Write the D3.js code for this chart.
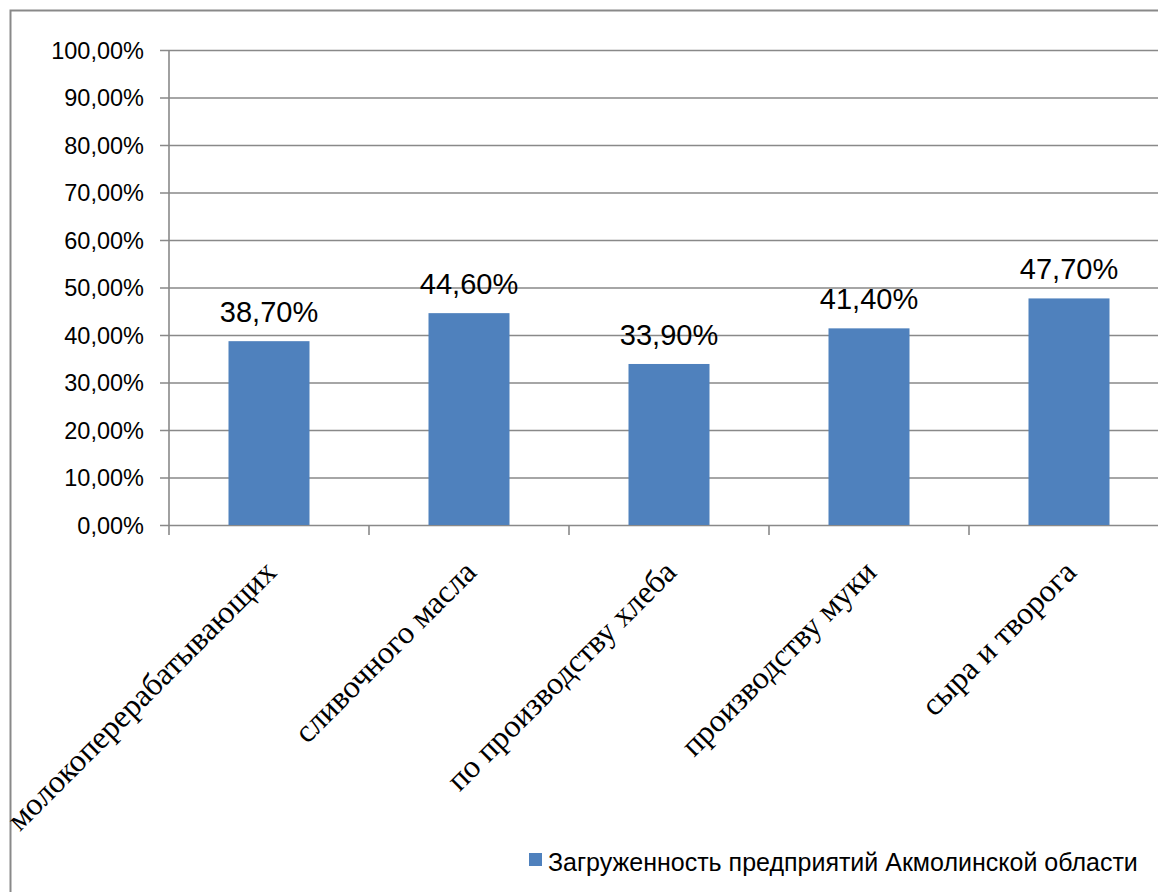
<!DOCTYPE html>
<html>
<head>
<meta charset="utf-8">
<script src="https://cdn.jsdelivr.net/npm/d3@7"></script>
<style>
  body { margin: 0; background: #fff; }
  svg { display: block; }
</style>
</head>
<body>
<div id="chart"></div>
<script>
// ===========Data
var categories = [
    "молокоперерабатывающих",
    "сливочного масла",
    "по производству хлеба",
    "производству муки",
    "сыра и творога"
];
var values = [0.387, 0.446, 0.339, 0.414, 0.477];
var valueLabels = ["38,70%", "44,60%", "33,90%", "41,40%", "47,70%"];
var yTicks = [0, 0.1, 0.2, 0.3, 0.4, 0.5, 0.6, 0.7, 0.8, 0.9, 1.0];
var seriesName = "Загруженность предприятий Акмолинской области";

// ===========Size
var svgWidth = 1158;
var svgHeight = 892;
var plot = { left: 169, right: 1169, top: 50, bottom: 525 };

var svg = d3.select("#chart").append("svg")
    .attr("width", svgWidth)
    .attr("height", svgHeight);

// outer chart border (cropped on right and bottom)
svg.append("rect")
    .attr("x", 10.5)
    .attr("y", 10.5)
    .attr("width", 1200)
    .attr("height", 1000)
    .attr("fill", "none")
    .attr("stroke", "#898989")
    .attr("stroke-width", 2);

// ==========Scales
var xScale = d3.scaleBand()
    .domain(categories)
    .range([plot.left, plot.right])
    .paddingInner(0.595)
    .paddingOuter(0.595 / 2);

var yScale = d3.scaleLinear()
    .domain([0, 1])
    .range([plot.bottom, plot.top]);

var pctFormat = function(d) {
    return d3.format(".2f")(d * 100).replace(".", ",") + "%";
};

// ==========Y axis with gridlines
var leftAxis = d3.axisLeft(yScale)
    .tickValues(yTicks)
    .tickSize(plot.right - plot.left + 9)
    .tickFormat(pctFormat);

var yAxis = svg.append("g")
    .attr("transform", `translate(${plot.right}, 0)`)
    .call(leftAxis);

yAxis.select(".domain").remove();
yAxis.selectAll("line")
    .attr("stroke", "#898989")
    .attr("stroke-width", 1.6);
yAxis.selectAll("text")
    .attr("x", -(plot.right - plot.left) - 25)
    .attr("dy", "0.35em")
    .style("font-family", "'Liberation Sans', Arial, sans-serif")
    .style("font-size", "23.5px")
    .attr("fill", "#000");

// vertical axis line
svg.append("line")
    .attr("x1", plot.left)
    .attr("x2", plot.left)
    .attr("y1", plot.top)
    .attr("y2", plot.bottom)
    .attr("stroke", "#898989")
    .attr("stroke-width", 1.6);

// ==========X axis ticks between categories
var boundaries = categories.map(function(c) { return xScale(c) - xScale.step() * xScale.paddingInner() / 2; });
svg.selectAll(".xtick")
    .data(boundaries)
    .enter()
    .append("line")
    .attr("class", "xtick")
    .attr("x1", d => d)
    .attr("x2", d => d)
    .attr("y1", plot.bottom)
    .attr("y2", plot.bottom + 10)
    .attr("stroke", "#898989")
    .attr("stroke-width", 1.6);

// ==========Bars
svg.selectAll(".bar")
    .data(values)
    .enter()
    .append("rect")
    .attr("class", "bar")
    .attr("x", (d, i) => xScale(categories[i]))
    .attr("y", d => yScale(d))
    .attr("width", xScale.bandwidth())
    .attr("height", d => yScale(0) - yScale(d))
    .attr("fill", "#4F81BD");

// ==========Data labels
svg.selectAll(".vlabel")
    .data(values)
    .enter()
    .append("text")
    .attr("class", "vlabel")
    .attr("x", (d, i) => xScale(categories[i]) + xScale.bandwidth() / 2)
    .attr("y", d => yScale(d) - 19)
    .attr("text-anchor", "middle")
    .style("font-family", "'Liberation Sans', Arial, sans-serif")
    .style("font-size", "29px")
    .text((d, i) => valueLabels[i]);

// ==========Category labels
svg.selectAll(".clabel")
    .data(categories)
    .enter()
    .append("text")
    .attr("class", "clabel")
    .attr("transform", d => `translate(${xScale(d) + xScale.bandwidth() / 2 + 9}, 574) rotate(-45)`)
    .attr("text-anchor", "end")
    .style("font-family", "'Liberation Serif', 'Times New Roman', serif")
    .style("font-size", "32px")
    .text(d => d);

// ==========Legend
var legend = svg.append("g")
    .attr("transform", "translate(529, 853)");

legend.append("rect")
    .attr("width", 13)
    .attr("height", 13)
    .attr("fill", "#4F81BD");

legend.append("text")
    .attr("x", 19)
    .attr("y", 18)
    .style("font-family", "'Liberation Sans', Arial, sans-serif")
    .style("font-size", "25px")
    .text(seriesName);
</script>
</body>
</html>
